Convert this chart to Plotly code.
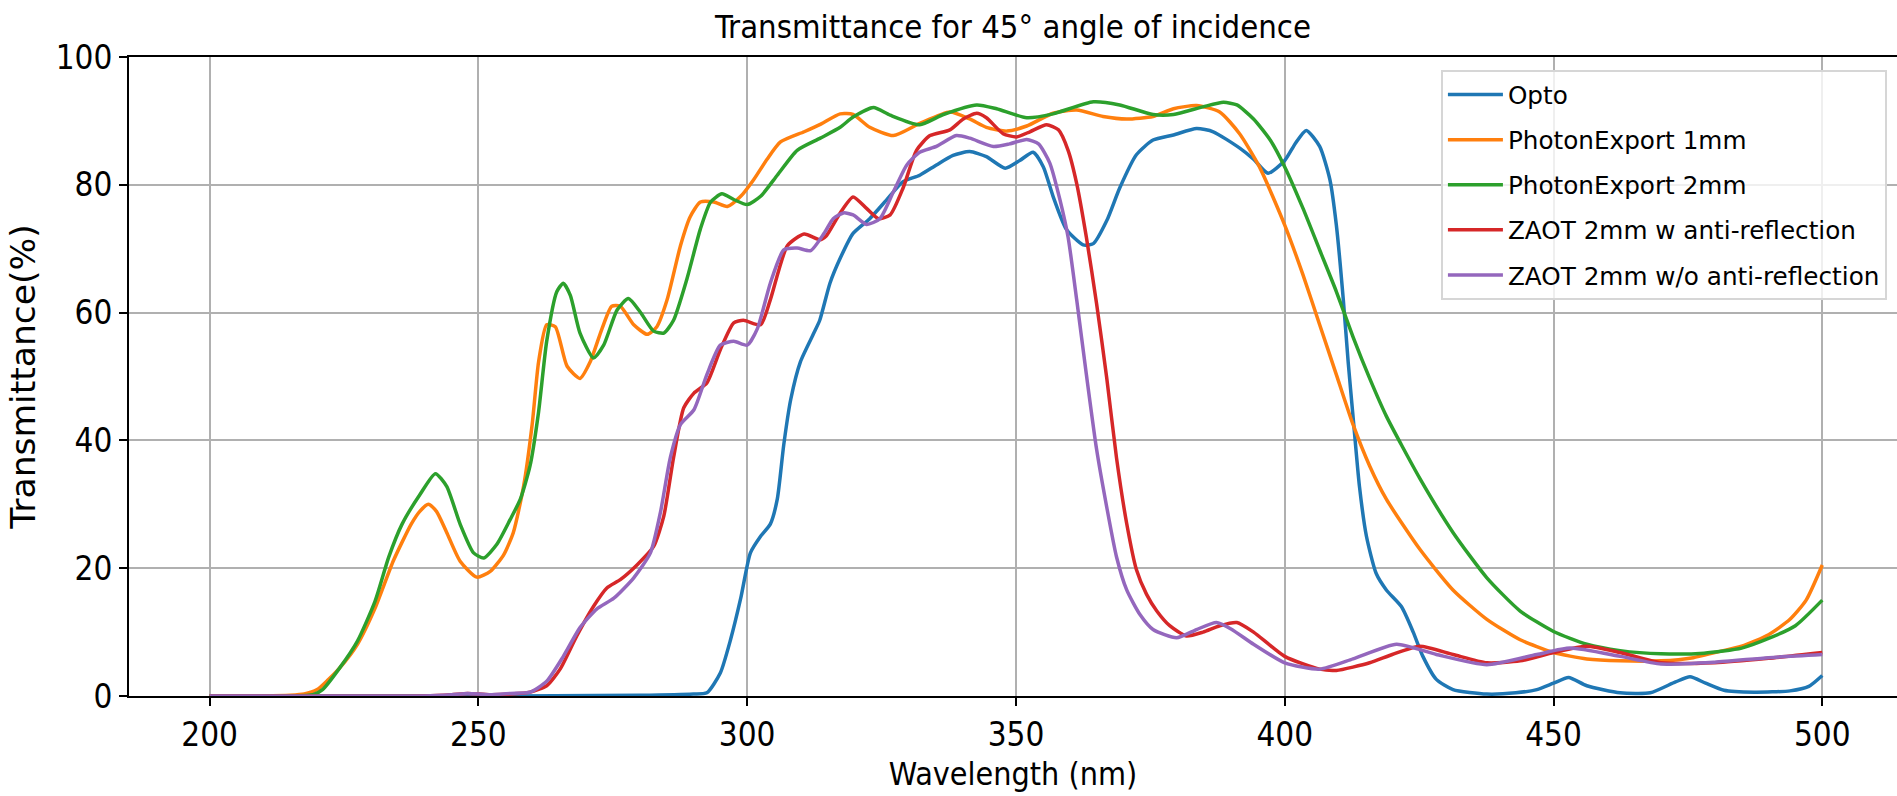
import plotly.graph_objects as go

# ---------------- data ----------------
opto_x = [200, 250, 280, 290, 292.5, 295, 296.9, 298.8, 300.6, 302.5, 304.3, 305.6, 306.8, 308.1, 309.9,
          312.4, 313.5, 315.4, 317.3, 319.7, 322.8, 325.9, 329, 332.1, 335.2, 338.3, 341.4, 344.5, 348,
          350.7, 353.2, 355.1, 356.9, 359.4, 362.5, 364.4, 366.9, 369.3, 372.4, 375.5, 379.3, 383.6,
          386.7, 391.7, 394.2, 396.9, 400, 402, 404, 406.5, 408.4, 409.6, 410.9, 411.8, 412.7, 413.9,
          415.2, 417, 418.9, 421.7, 423.9, 425.7, 428.2, 431.3, 437.6, 443, 446.9, 450, 452.8, 456.2,
          462.4, 468, 472.7, 475.4, 478.3, 481.7, 487.3, 494, 497.5, 500]
opto_y = [0, 0, 0.1, 0.3, 0.5, 3.6, 8.8, 15.3, 22.4, 25, 26.9, 30.8, 39.3, 46.4, 52.3,
          56.8, 58.8, 64.6, 68.5, 72.4, 74.7, 77.6, 80.5, 81.5, 83.1, 84.6, 85.2, 84.4, 82.6,
          83.8, 85.1, 82.8, 78.2, 73, 70.6, 70.8, 74.4, 79.5, 84.7, 87, 87.8, 88.8,
          88.3, 85.7, 84, 81.8, 83.8, 86.5, 88.5, 86, 80.8, 73.7, 62, 52.3, 43.8, 32.8,
          25, 19.2, 16.6, 14, 10, 6.2, 2.6, 1, 0.3, 0.5, 1, 2, 2.9, 1.6,
          0.5, 0.5, 2.2, 3, 2, 0.9, 0.6, 0.8, 1.5, 3.2]

pe1_x = [200, 210, 215, 217.6, 220, 222, 224.2, 227.5, 230.8, 234.2, 237.5, 239.1, 240.7, 242.2, 244.1,
         246.6, 249.7, 252.2, 254.7, 256.5, 258.4, 260, 261.2, 262.7, 264.3, 266.5, 268.9, 270.8, 273,
         274.8, 276.4, 278.9, 281.4, 283.2, 285.1, 287.6, 289.4, 291.3, 293.8, 296.3, 298.8, 301.2,
         303.7, 306.2, 310.6, 313.7, 317.3, 319.7, 322.8, 327.2, 332.1, 337.7, 341.4, 344.5, 348.3,
         352, 356.9, 361.3, 366.2, 370.6, 375.5, 379.3, 383.6, 387.9, 391.6, 395.3, 400, 403.4, 406.5,
         409.6, 412.7, 415.8, 418.9, 425.1, 431.3, 437.6, 443.8, 450, 456.2, 462.4, 470, 476, 480, 485,
         490, 494, 497, 500]
pe1_y = [0, 0, 0.1, 0.3, 1, 2.5, 4.4, 8.1, 13.8, 21.2, 26.9, 28.9, 30, 28.9, 25.6,
         21.1, 18.6, 19.5, 22.1, 25.6, 32.8, 42.5, 52.3, 58.1, 57.8, 51.6, 49.7, 52.3, 57.5,
         61, 61, 58.1, 56.6, 57.8, 62, 70.5, 75, 77.3, 77.3, 76.6, 78.2, 80.8,
         84, 86.7, 88.3, 89.5, 91.1, 91, 89, 87.7, 89.6, 91.4, 90.3, 89, 88.4,
         89.2, 91.2, 91.7, 90.7, 90.3, 90.7, 91.9, 92.4, 91.4, 88, 82.8, 73.7, 65.9, 58.1,
         50.3, 42.5, 36, 30.8, 23, 16.6, 12, 8.8, 6.8, 5.8, 5.5, 5.5, 6, 6.8, 7.8,
         9.6, 12, 15, 20.5]

pe2_x = [200, 215, 219.2, 221, 224.2, 227.5, 230.8, 233.3, 235.8, 239.1, 242, 244.1, 246.6, 249.1, 251,
         253.4, 255.9, 257.8, 259.6, 261.2, 262.7, 264.6, 265.8, 267.1, 268.9, 271.4, 273.3, 275.8,
         277.9, 280.1, 282.6, 284.5, 286.3, 288.8, 291.3, 293.2, 295.3, 297.5, 300, 302.5, 305.6,
         309.3, 313.6, 317.3, 319.7, 323.5, 326.6, 332.1, 336.5, 342.7, 346.4, 352, 356.9, 364.4,
         369.3, 375.5, 379.3, 384.8, 388.6, 391.1, 394.2, 397.3, 400, 403.4, 406.5, 409.6, 412.7,
         415.8, 418.9, 425.1, 431.3, 437.6, 443.8, 450, 456.2, 462.4, 470, 478, 485, 490, 495, 500]
pe2_y = [0, 0, 0.2, 1, 4.4, 8.6, 14.9, 21.7, 26.9, 31.5, 34.8, 32.8, 26.9, 22.4, 21.6,
         23.7, 27.6, 30.8, 36, 44.5, 55.5, 63.3, 64.6, 62.7, 56.8, 52.9, 54.9, 60.4,
         62.2, 60.1, 57.1, 56.8, 58.8, 65.3, 73.1, 77.3, 78.6, 77.7, 76.9, 78.2, 81.5,
         85.4, 87.3, 89, 90.6, 92.1, 90.9, 89.4, 91, 92.5, 91.9, 90.5, 91.1, 93,
         92.5, 91, 91, 92.2, 92.9, 92.5, 90.3, 87, 82.8, 76.3, 69.8, 63.3, 56.2,
         49.7, 43.8, 34.1, 25.6, 18.5, 13.3, 10.1, 8.1, 7.1, 6.6, 6.7, 7.5, 9, 11, 15]

zar_x = [200, 240, 245, 248, 252, 256, 259.6, 262.7, 265.2, 268.3, 271.4, 273.9, 276.4, 279.5, 282.6,
         284.5, 286.3, 288.2, 290.1, 292.5, 295, 297.5, 299.3, 302.5, 304.3, 307.5, 310.6, 313.5,
         314.7, 317.3, 319.7, 322.2, 324.4, 326.6, 329, 331.5, 334, 337.7, 340.2, 342.7, 344.5,
         347.6, 350.1, 352.6, 355.7, 357.9, 359.7, 361.3, 363.1, 365, 366.9, 368.7, 370.6, 372.4,
         374.3, 376.2, 378.6, 381.7, 384.8, 387.9, 391.1, 394.2, 400, 406.5, 409.6, 415.8, 420,
         425.1, 431.3, 437.6, 443.8, 450, 456.2, 462.4, 470, 480, 490, 500]
zar_y = [0, 0, 0.2, 0.4, 0.2, 0.3, 0.6, 1.6, 4.2, 9.4, 14, 16.9, 18.2, 20.5, 23.4,
         28.2, 37.3, 45.1, 47.4, 49, 54.2, 58.4, 58.8, 58.1, 62, 70.5, 72.3, 71.4,
         72, 75.6, 78.1, 76.3, 74.7, 75.3, 79.5, 85.4, 87.7, 88.6, 90.3, 91.2, 90.5,
         88, 87.5, 88.3, 89.4, 88.6, 85.4, 80.2, 71.8, 61.4, 49.7, 37.3, 27, 19.8,
         15.9, 13.3, 11, 9.4, 10, 11, 11.5, 10, 6.2, 4.2, 4, 5.2, 6.5,
         7.8, 6.5, 5.2, 5.5, 6.8, 7.8, 6.8, 5.2, 5.2, 5.9, 6.8]

znoar_x = [200, 240, 245, 248, 252, 256, 259.6, 262.7, 265.8, 268.9, 272, 275.2, 278.9, 282, 283.9,
           285.7, 287.6, 290.1, 292.5, 295, 297.5, 300, 301.9, 304.3, 306.8, 309.3, 311.8, 314.3,
           316, 317.9, 319.7, 322.2, 324.7, 327.2, 329.7, 332.1, 335.2, 338.9, 341.4, 345.8, 348.8,
           352, 354.2, 356.3, 358.2, 359.7, 361.3, 363.1, 365, 366.9, 368.7, 370.6, 373.1, 375.5,
           379.9, 383.6, 387.3, 390, 394.2, 400, 406.5, 412.7, 420.8, 428.2, 437.6, 446.9, 453.1,
           462.4, 470, 480, 490, 500]
znoar_y = [0, 0, 0.2, 0.4, 0.2, 0.4, 0.6, 2.3, 6.2, 10.7, 13.6, 15.3, 18.5, 22.4, 28.9,
           37.3, 42.5, 44.8, 50.3, 54.9, 55.5, 54.9, 57.5, 64.6, 69.8, 70.1, 69.7, 72.4,
           74.7, 75.6, 75.3, 73.8, 74.7, 78.9, 83.1, 85.1, 86, 87.7, 87.3, 86, 86.4,
           87.1, 86.4, 83.4, 77.6, 71.8, 62, 50.3, 38.6, 29.5, 21.8, 16.6, 12.7, 10.4,
           9.1, 10.4, 11.5, 10.5, 8.1, 5.2, 4.2, 5.8, 8.1, 6.5, 4.9, 6.5, 7.5,
           6.2, 5, 5.3, 6, 6.5]

series_names = ["Opto", "PhotonExport 1mm", "PhotonExport 2mm",
                "ZAOT 2mm w anti-reflection", "ZAOT 2mm w/o anti-reflection"]
series_x = [opto_x, pe1_x, pe2_x, zar_x, znoar_x]
series_y = [opto_y, pe1_y, pe2_y, zar_y, znoar_y]
colors = ["#1f77b4", "#ff7f0e", "#2ca02c", "#d62728", "#9467bd"]

x_ticks = [200, 250, 300, 350, 400, 450, 500]
y_ticks = [0, 20, 40, 60, 80, 100]

title_text = "Transmittance for 45° angle of incidence"
x_label = "Wavelength (nm)"
y_label = "Transmittance(%)"

# ---------------- figure ----------------
FONT = "DejaVu Sans Condensed, DejaVu Sans, sans-serif"

fig = go.Figure()
for i, (name, xs, ys, c) in enumerate(zip(series_names, series_x, series_y, colors)):
    fig.add_trace(go.Scatter(
        x=xs, y=ys, mode="lines", name=name, legendgroup=f"g{i}",
        line=dict(color=c, width=3.5, shape="spline", smoothing=0.6),
        hoverinfo="x+y+name",
    ))

fig.update_layout(
    width=1897, height=796,
    margin=dict(l=129, r=0, t=57, b=100, autoexpand=False),
    paper_bgcolor="white", plot_bgcolor="white",
    title=dict(text=title_text, x=0.5, xanchor="center", xref="paper",
               y=0.966, yanchor="middle",
               font=dict(family=FONT, size=32.6, color="black")),
    legend=dict(
        x=0.9943, xanchor="right", y=0.9797, yanchor="top",
        bgcolor="rgba(255,255,255,0.8)", bordercolor="#d6d6d6", borderwidth=2,
        font=dict(family="DejaVu Sans", size=24.7, color="black"),
        traceorder="grouped", tracegroupgap=10, itemwidth=55,
    ),
    showlegend=True,
)

fig.update_xaxes(
    range=[185, 513.9], tickmode="array", tickvals=x_ticks,
    ticktext=[str(v) for v in x_ticks],
    showgrid=True, gridcolor="#b0b0b0", gridwidth=1.8,
    showline=True, linecolor="black", linewidth=2, mirror=True,
    ticks="outside", ticklen=8, tickwidth=1.6, tickcolor="black",
    tickfont=dict(family=FONT, size=33, color="black"),
    zeroline=False,
    title=dict(text=x_label, font=dict(family=FONT, size=32, color="black"), standoff=10),
)
fig.update_yaxes(
    range=[0, 100], tickmode="array", tickvals=y_ticks,
    ticktext=[str(v) for v in y_ticks],
    showgrid=True, gridcolor="#b0b0b0", gridwidth=1.8,
    showline=True, linecolor="black", linewidth=2, mirror=False,
    ticks="outside", ticklen=8, tickwidth=1.6, tickcolor="black",
    tickfont=dict(family=FONT, size=33, color="black"),
    zeroline=False,
    title=dict(text=y_label, font=dict(family="DejaVu Sans", size=34.5, color="black"), standoff=10),
)

fig.write_html(
    "out.html",
    config={"displayModeBar": False},
    post_script="document.body.style.margin='0';document.body.style.overflow='hidden';",
)
